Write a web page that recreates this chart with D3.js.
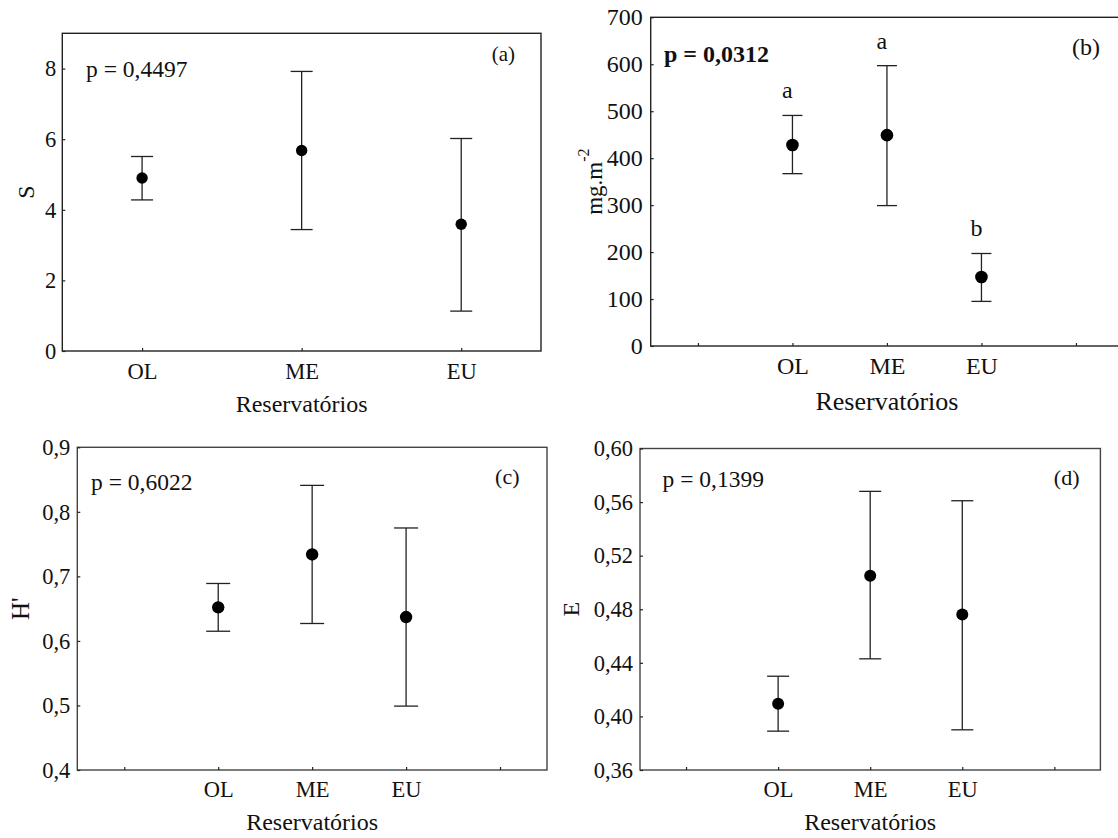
<!DOCTYPE html>
<html>
<head>
<meta charset="utf-8">
<script src="https://cdn.jsdelivr.net/npm/d3@7"></script>
<style>
  html, body { margin: 0; padding: 0; background: #fff; }
  svg { display: block; }
  text { font-family: "Liberation Serif", "Times New Roman", serif; fill: #111; }
</style>
</head>
<body>
<svg id="chart" width="1118" height="838" font-family="Liberation Serif, Times New Roman, serif"></svg>
<script>
// ---- data ----
const categories = ["OL", "ME", "EU"];
const xTitle = "Reservatórios";

// (a) richness S
const sMean = [4.90, 5.68, 3.59];
const sLow  = [4.28, 3.44, 1.13];
const sHigh = [5.51, 7.92, 6.02];
const sTicks = [0, 2, 4, 6, 8];

// (b) biomass mg.m-2
const bMean = [428, 449, 147];
const bLow  = [367, 299, 95];
const bHigh = [491, 597, 197];
const bTicks = [0, 100, 200, 300, 400, 500, 600, 700];
const bLetters = ["a", "a", "b"];

// (c) Shannon H'
const hMean = [0.652, 0.734, 0.637];
const hLow  = [0.615, 0.627, 0.499];
const hHigh = [0.689, 0.841, 0.775];
const hTicks = [0.4, 0.5, 0.6, 0.7, 0.8, 0.9];

// (d) evenness E
const eMean = [0.4095, 0.505, 0.476];
const eLow  = [0.389, 0.443, 0.390];
const eHigh = [0.430, 0.568, 0.561];
const eTicks = [0.36, 0.40, 0.44, 0.48, 0.52, 0.56, 0.60];

const pLabels = ["p = 0,4497", "p = 0,0312", "p = 0,6022", "p = 0,1399"];
const tags = ["(a)", "(b)", "(c)", "(d)"];

// ---- layout ----
const FONT = '"Liberation Serif", "Times New Roman", serif';
const svg = d3.select("#chart");
const comma = d => String(d).replace(".", ",");

const panels = [
  { left: 62.3, top: 33.3, width: 478.7, height: 317.7, domain: [0, 9], ticks: sTicks, fmt: d => String(d),
    mean: sMean, low: sLow, high: sHigh, padded: false, fs: 22.5, titleFs: 24, title: "S", titleX: 26, tag: tags[0], p: pLabels[0], bold: false,
    pX: 86, pY: 77, tagX: 515, tagY: 60.5, tagFs: 21, pFs: 23.5, xtFs: 24, r: 5.7, cap: 11, tickPad: 12, xTitleY: 411.5, tickLabelGap: 6,
    frame: "#222" },
  { left: 650.7, top: 17.3, width: 472.5, height: 328.7, domain: [0, 700], ticks: bTicks, fmt: d => String(d),
    mean: bMean, low: bLow, high: bHigh, padded: true, fs: 24, titleFs: 23, title: "mg.m", sup: "-2", titleX: 594, tag: tags[1], p: pLabels[1], bold: true,
    pX: 664, pY: 61.5, tagX: 1100, tagY: 55, tagFs: 24, pFs: 24, xtFs: 26, r: 6.3, cap: 10, tickPad: 10.8, xTitleY: 410, tickLabelGap: 8,
    letters: bLetters, frame: "#222" },
  { left: 77.3, top: 447.3, width: 469.7, height: 322.7, domain: [0.4, 0.9], ticks: hTicks, fmt: d => comma(d3.format(".1f")(d)),
    mean: hMean, low: hLow, high: hHigh, padded: true, fs: 22.5, titleFs: 25, title: "H'", titleX: 20, tag: tags[2], p: pLabels[2], bold: false,
    pX: 91, pY: 490, tagX: 519.5, tagY: 483.5, tagFs: 22, pFs: 23.5, xtFs: 24, r: 6.2, cap: 12, tickPad: 10.9, xTitleY: 830, tickLabelGap: 7,
    frame: "#444" },
  { left: 640, top: 448.5, width: 460.4, height: 321.5, domain: [0.36, 0.60], ticks: eTicks, fmt: d => comma(d3.format(".2f")(d)),
    mean: eMean, low: eLow, high: eHigh, padded: true, fs: 22.5, titleFs: 24, title: "E", titleX: 571, tag: tags[3], p: pLabels[3], bold: false,
    pX: 662.5, pY: 486.5, tagX: 1079.5, tagY: 485, tagFs: 22, pFs: 23.5, xtFs: 24, r: 6.0, cap: 11, tickPad: 10.9, xTitleY: 830, tickLabelGap: 7,
    frame: "#444" }
];

panels.forEach(P => {
  const g = svg.append("g").attr("transform", `translate(${P.left},${P.top})`);
  const slots = P.padded ? ["_l", ...categories, "_r"] : categories;
  const x = d3.scalePoint().domain(slots).range([0, P.width]).padding(0.5);
  const y = d3.scaleLinear().domain(P.domain).range([P.height, 0]);

  // frame
  g.append("rect").attr("x", 0).attr("y", 0).attr("width", P.width).attr("height", P.height)
    .attr("fill", "none").attr("stroke", P.frame).attr("stroke-width", 1.4);

  // y axis (inward ticks)
  const ya = g.append("g").call(d3.axisLeft(y).tickValues(P.ticks).tickFormat(P.fmt).tickSize(-3).tickPadding(P.tickLabelGap));
  ya.attr("font-family", FONT);
  ya.select(".domain").remove();
  ya.selectAll(".tick line").attr("stroke", "#222").attr("stroke-width", 1.2);
  ya.selectAll(".tick text").attr("font-size", P.fs).attr("fill", "#111");

  // x axis (inward ticks)
  const xa = g.append("g").attr("transform", `translate(0,${P.height})`)
    .call(d3.axisBottom(x).tickSize(-3).tickPadding(P.tickPad).tickFormat(d => categories.includes(d) ? d : ""));
  xa.attr("font-family", FONT);
  xa.select(".domain").remove();
  xa.selectAll(".tick line").attr("stroke", "#222").attr("stroke-width", 1.2);
  xa.selectAll(".tick text").attr("font-size", P.fs).attr("fill", "#111");

  // error bars
  const rows = categories.map((c, i) => ({ c, m: P.mean[i], lo: P.low[i], hi: P.high[i], letter: P.letters ? P.letters[i] : null }));
  const eb = g.append("g").attr("stroke", "#222").attr("stroke-width", 1.3);
  eb.selectAll("line.v").data(rows).join("line").attr("class", "v")
    .attr("x1", d => x(d.c)).attr("x2", d => x(d.c)).attr("y1", d => y(d.lo)).attr("y2", d => y(d.hi));
  eb.selectAll("line.t").data(rows).join("line").attr("class", "t")
    .attr("x1", d => x(d.c) - P.cap).attr("x2", d => x(d.c) + P.cap).attr("y1", d => y(d.hi)).attr("y2", d => y(d.hi));
  eb.selectAll("line.b").data(rows).join("line").attr("class", "b")
    .attr("x1", d => x(d.c) - P.cap).attr("x2", d => x(d.c) + P.cap).attr("y1", d => y(d.lo)).attr("y2", d => y(d.lo));
  g.selectAll("circle.m").data(rows).join("circle").attr("class", "m")
    .attr("cx", d => x(d.c)).attr("cy", d => y(d.m)).attr("r", P.r).attr("fill", "#000");

  if (P.letters) {
    g.selectAll("text.letter").data(rows).join("text").attr("class", "letter")
      .attr("x", d => x(d.c) - 5).attr("y", d => y(d.hi) - 17)
      .attr("text-anchor", "middle").attr("font-size", 24).text(d => d.letter);
  }

  // x title
  svg.append("text").attr("x", P.left + x("ME")).attr("y", P.xTitleY)
    .attr("text-anchor", "middle").attr("font-size", P.xtFs).text(xTitle);

  // y title
  const yt = svg.append("text")
    .attr("transform", `translate(${P.titleX},${P.top + P.height / 2}) rotate(-90)`)
    .attr("text-anchor", "middle").attr("dy", "0.35em").attr("font-size", P.titleFs).text(P.title);
  if (P.sup) {
    yt.append("tspan").attr("font-size", 16).attr("dy", "-0.8em").text(P.sup);
  }

  // p value
  svg.append("text").attr("x", P.pX).attr("y", P.pY).attr("font-size", P.pFs)
    .attr("font-weight", P.bold ? "bold" : "normal").text(P.p);

  // tag
  svg.append("text").attr("x", P.tagX).attr("y", P.tagY).attr("text-anchor", "end")
    .attr("font-size", P.tagFs).text(P.tag);
});
</script>
</body>
</html>
